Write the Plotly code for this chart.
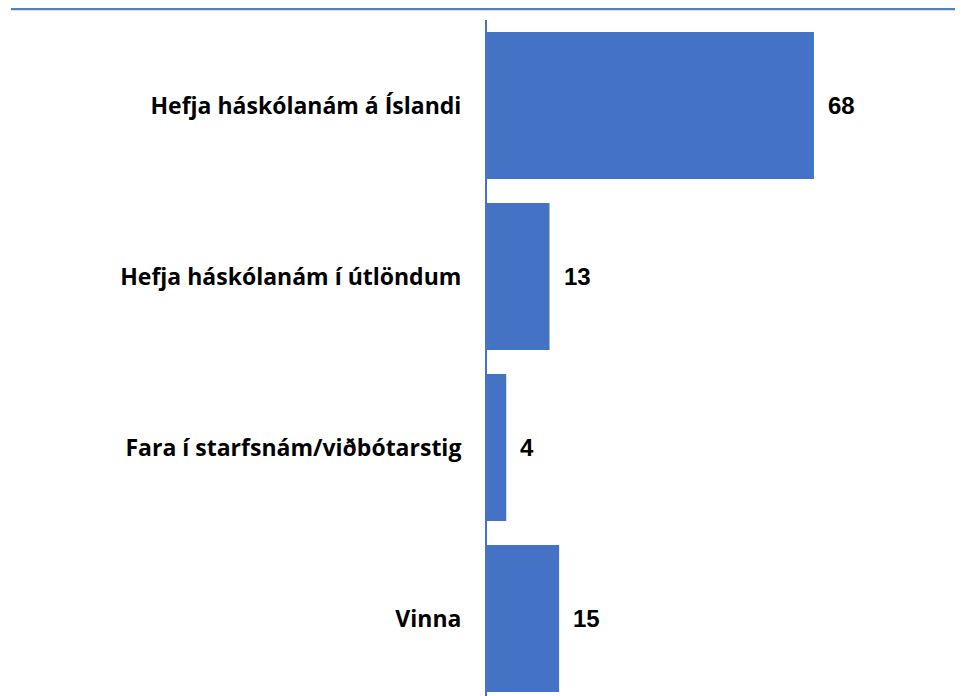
import plotly.graph_objects as go

categories = [
    "Hefja háskólanám á Íslandi",
    "Hefja háskólanám í útlöndum",
    "Fara í starfsnám/viðbótarstig",
    "Vinna",
]
values = [68, 13, 4, 15]

BLUE = "#4472C4"

fig = go.Figure(go.Bar(
    x=values, y=categories, orientation="h",
    marker=dict(color=BLUE, line=dict(width=0)),
    hoverinfo="x+y",
))

# value labels just past the bar ends
for cat, v in zip(categories, values):
    fig.add_annotation(x=v, y=cat, text=f"<b>{v}</b>", showarrow=False,
                       xanchor="left", xshift=12,
                       font=dict(family="Liberation Sans, Arial", size=24, color="black"))

# blue rule across the top
fig.add_shape(type="line", xref="paper", yref="paper", ysizemode="pixel", yanchor=1,
              x0=-1.0, x1=1.0, y0=11, y1=11,
              line=dict(color="#4F81BD", width=2.5))

fig.update_layout(
    width=955, height=688,
    margin=dict(l=479, r=0, t=12, b=0),
    plot_bgcolor="white", paper_bgcolor="white",
    bargap=0.14, showlegend=False,
    xaxis=dict(range=[0, 99], visible=False, fixedrange=True),
    yaxis=dict(range=[3.453, -0.5], showline=True, linecolor=BLUE, linewidth=2,
               ticks="", showgrid=False, zeroline=False, ticklabelstandoff=19,
               tickfont=dict(family="Open Sans", size=23, color="black",
                             weight="bold")),
)

fig.write_html("out.html")
